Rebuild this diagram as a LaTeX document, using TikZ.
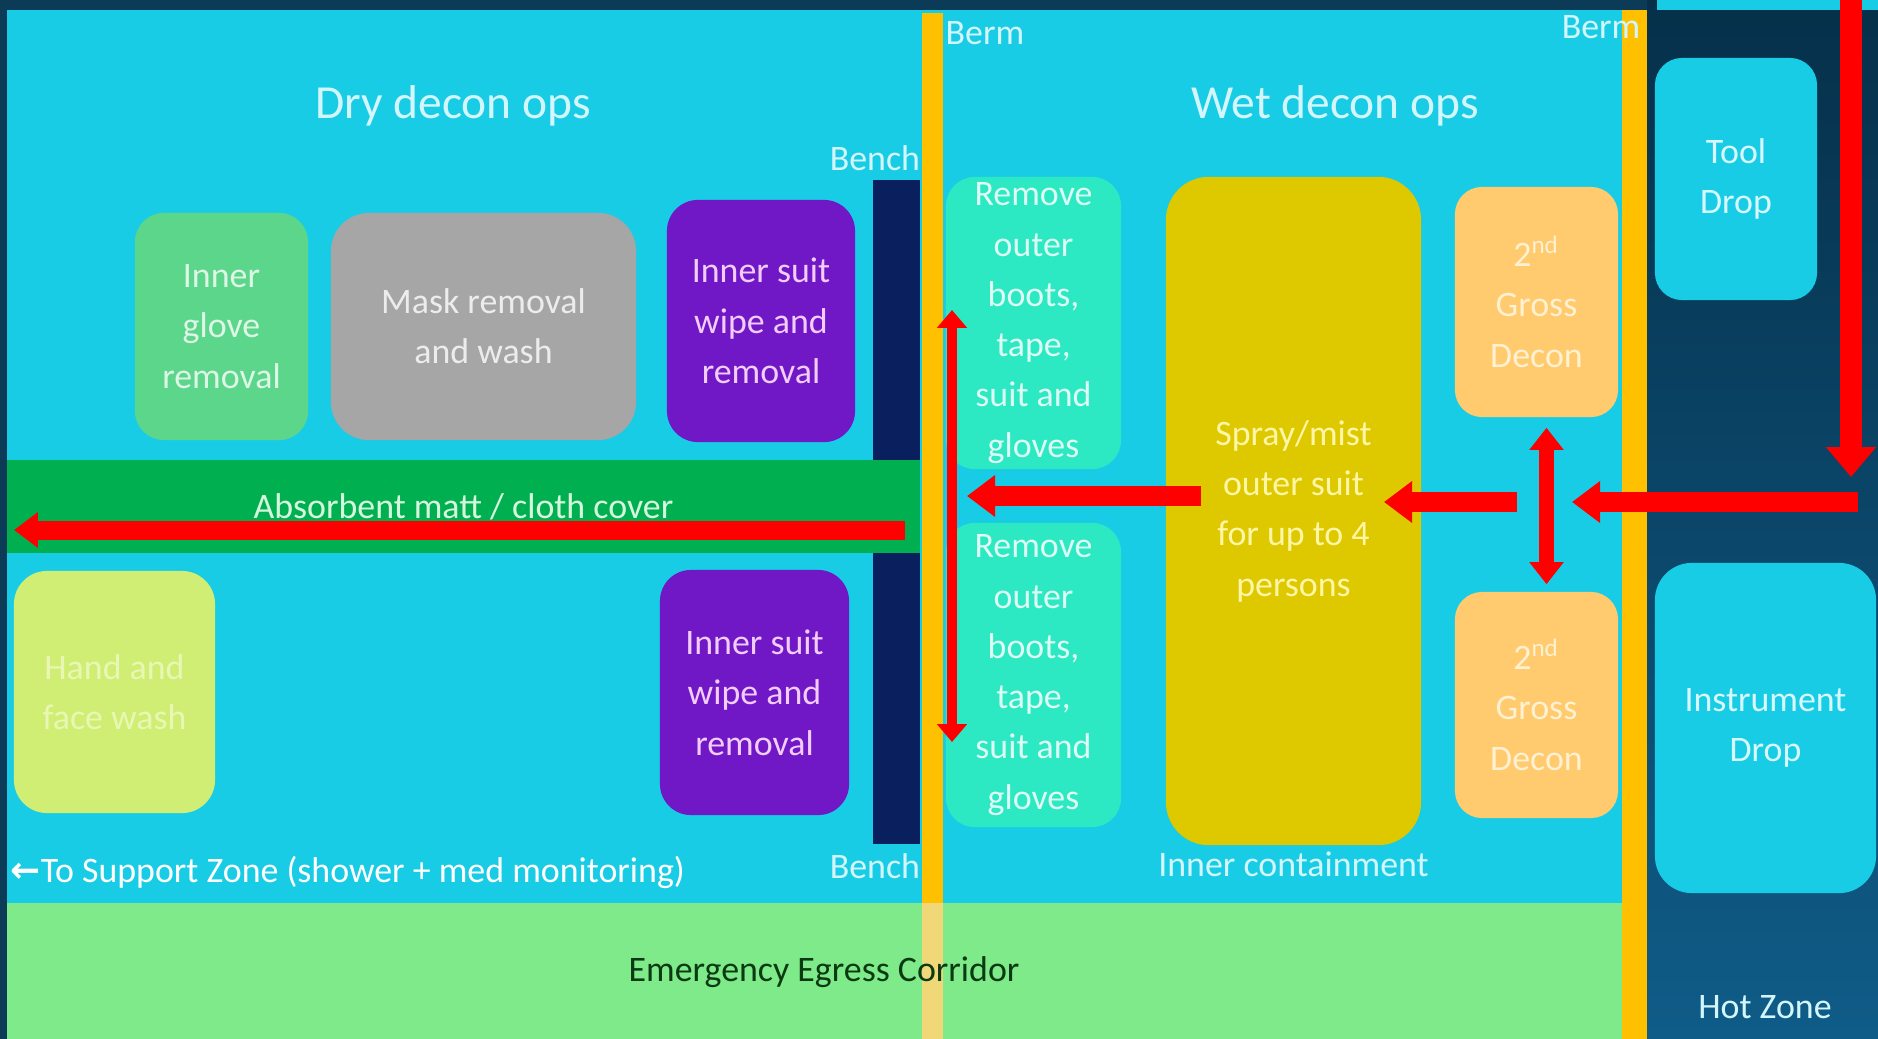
\documentclass[tikz,border=0pt]{standalone}
\usepackage{fontspec}
\setmainfont{Carlito}
\newfontfamily\arrowfont{DejaVu Sans}
\usetikzlibrary{arrows.meta,positioning}

\definecolor{outerdark}{HTML}{0B3B57}
\definecolor{hottop}{HTML}{06304A}
\definecolor{hotbot}{HTML}{0F5C88}
\definecolor{zonecyan}{HTML}{18CCE6}
\definecolor{paletext}{HTML}{D2F6FC}
\definecolor{bermyellow}{HTML}{FFC000}
\definecolor{bermpale}{HTML}{F0D878}
\definecolor{benchnavy}{HTML}{0A1F5E}
\definecolor{mattgreen}{HTML}{00B050}
\definecolor{matttext}{HTML}{D6F7DD}
\definecolor{egressgreen}{HTML}{7EEA8A}
\definecolor{egresstext}{HTML}{0B3A12}
\definecolor{glovegreen}{HTML}{5CD68B}
\definecolor{glovetext}{HTML}{DDF6E6}
\definecolor{maskgrey}{HTML}{A6A6A6}
\definecolor{masktext}{HTML}{ECECEC}
\definecolor{suitpurple}{HTML}{7018C6}
\definecolor{suittext}{HTML}{F2CDFB}
\definecolor{washlime}{HTML}{D1EE74}
\definecolor{washtext}{HTML}{E9F7B4}
\definecolor{bootaqua}{HTML}{2CE8C3}
\definecolor{boottext}{HTML}{DDFCF3}
\definecolor{spraygold}{HTML}{DEC800}
\definecolor{spraytext}{HTML}{FFF6A6}
\definecolor{grossorange}{HTML}{FFCB6E}
\definecolor{grosstext}{HTML}{FFF1D2}
\definecolor{droptext}{HTML}{D8F8FF}
\definecolor{flowred}{HTML}{FF0000}

\begin{document}
\begin{tikzpicture}[x=0.01cm, y=-0.01cm,
  every node/.style={font=\fontsize{10.2}{14.3}\selectfont, inner sep=0pt},
  station/.style={align=center},
  tag/.style={text=paletext},
  title/.style={text=paletext, font=\fontsize{13.5}{16}\selectfont},
  flow/.style={draw=flowred, line width=5.7pt, -{Triangle[length=8pt,width=11.4pt]}},
  twoway/.style={draw=flowred, line width=4.3pt,
    {Triangle[length=6.3pt,width=9.4pt]}-{Triangle[length=6.3pt,width=9.4pt]}}]

  \useasboundingbox (0,0) rectangle (1878,1039);

  % zones
  \fill[outerdark] (0,0) rectangle (1878,1039);
  \shade[top color=hottop, bottom color=hotbot] (1647,0) rectangle (1878,1039);
  \fill[zonecyan] (1657,0) rectangle (1878,10);
  \fill[zonecyan] (7,10) rectangle (1647,903);
  \fill[egressgreen] (7,903) rectangle (1622,1039);
  \fill[bermyellow] (922,13) rectangle (943,903);
  \fill[bermpale] (922,903) rectangle (943,1039);
  \fill[bermyellow] (1622,10) rectangle (1647,1039);

  \node[fill=benchnavy, minimum width=0.47cm, minimum height=2.87cm] (benchA) at (896.5,323.5) {};
  \node[fill=benchnavy, minimum width=0.47cm, minimum height=2.91cm] (benchB) at (896.5,698.5) {};
  \node[fill=mattgreen, text=matttext, minimum width=9.13cm, minimum height=0.93cm] (matt) at (463.5,506.5)
    {Absorbent matt / cloth cover};

  % dry side
  \node[station, fill=glovegreen, text=glovetext, minimum width=1.73cm, minimum height=2.27cm,
    rounded corners=8.2pt] (glove) at (221.5,326.5) {Inner\\glove\\removal};
  \node[station, fill=maskgrey, text=masktext, minimum width=3.05cm, minimum height=2.27cm,
    rounded corners=10.8pt] (mask) at (483.5,326.5) {Mask removal\\and wash};
  \node[station, fill=suitpurple, text=suittext, minimum width=1.88cm, minimum height=2.42cm,
    rounded corners=8.8pt] (suitA) at (761,321) {Inner suit\\wipe and\\removal};
  \node[station, fill=washlime, text=washtext, minimum width=2.01cm, minimum height=2.42cm,
    rounded corners=9.4pt] (wash) at (114.5,692) {Hand and\\face wash};
  \node[station, fill=suitpurple, text=suittext, minimum width=1.89cm, minimum height=2.45cm,
    rounded corners=8.8pt] (suitB) at (754.5,692.5) {Inner suit\\wipe and\\removal};

  % wet side
  \node[station, fill=bootaqua, text=boottext, minimum width=1.75cm, minimum height=2.92cm,
    rounded corners=8.2pt] (bootsA) at (1033.5,323) {Remove\\outer\\boots,\\tape,\\suit and\\gloves};
  \node[station, fill=bootaqua, text=boottext, minimum width=1.75cm, minimum height=3.04cm,
    rounded corners=8.2pt] (bootsB) at (1033.5,675) {Remove\\outer\\boots,\\tape,\\suit and\\gloves};
  \node[station, fill=spraygold, text=spraytext, minimum width=2.55cm, minimum height=6.68cm,
    rounded corners=12.2pt] (spray) at (1293.5,511) {Spray/mist\\outer suit\\for up to 4\\persons};
  \node[station, fill=grossorange, text=grosstext, minimum width=1.63cm, minimum height=2.30cm,
    rounded corners=7.7pt] (grossA) at (1536.5,302) {2\textsuperscript{nd}\\Gross\\Decon};
  \node[station, fill=grossorange, text=grosstext, minimum width=1.63cm, minimum height=2.26cm,
    rounded corners=7.7pt] (grossB) at (1536.5,705) {2\textsuperscript{nd}\\Gross\\Decon};

  % hot zone
  \node[station, fill=zonecyan, text=droptext, minimum width=1.62cm, minimum height=2.42cm,
    rounded corners=7.7pt] (tool) at (1736,179) {Tool\\Drop};
  \node[station, fill=zonecyan, text=droptext, minimum width=2.21cm, minimum height=3.30cm,
    rounded corners=10.5pt] (instr) at (1765.5,728) {Instrument\\Drop};

  % labels
  \node[title] (drytitle) at (453,106) {Dry decon ops};
  \node[title] (wettitle) at (1335,106) {Wet decon ops};
  \node[tag, anchor=west] (bermL) at (945,33) {Berm};
  \node[tag, anchor=east] (bermR) at (1641,27) {Berm};
  \node[tag, above=0.08cm of benchA.north east, anchor=south east] (benchAlbl) {Bench};
  \node[tag, below=0.08cm of benchB.south east, anchor=north east] (benchBlbl) {Bench};
  \node[tag, below=0.05cm of spray] (inner) {Inner containment};
  \node[text=white, anchor=west] (support) at (10,872)
    {{\arrowfont\bfseries ←}To Support Zone (shower + med monitoring)};
  \node[text=egresstext] (egress) at (824,972) {Emergency Egress Corridor};
  \node[tag] (hot) at (1765,1007) {Hot Zone};

  % flow
  \coordinate (toolIn) at (1851,0);
  \coordinate (toolOut) at (1851,477);
  \coordinate (hotIn) at (1858,502);
  \coordinate (hotOut) at (1572,502);
  \coordinate (grossOut) at (1517,502);
  \coordinate (sprayIn) at (1384,502);
  \coordinate (sprayOut) at (1201,496);
  \coordinate (bootsIn) at (967,496);
  \coordinate (mattIn) at (905,530);
  \coordinate (mattOut) at (14,530);
  \coordinate (bootsUp) at (952,310);
  \coordinate (bootsDown) at (952,742);

  \draw[flow, line width=6.3pt, -{Triangle[length=8.5pt,width=13.7pt]}] (toolIn) -- (toolOut); %% in
  \draw[flow] (hotIn) -- (hotOut); %% hot->gross
  \draw[flow] (grossOut) -- (sprayIn); %% gross->spray
  \draw[flow] (sprayOut) -- (bootsIn); %% spray->boots
  \draw[flow, line width=5.4pt, -{Triangle[length=6.8pt,width=9.7pt]}] (mattIn) -- (mattOut); %% out
  \draw[twoway, shorten <=0.1cm, shorten >=0.07cm]
    ([xshift=0.1cm]grossA.south) -- ([xshift=0.1cm]grossB.north); %% A<->B
  \draw[twoway, line width=3.1pt,
    {Triangle[length=5.1pt,width=8.3pt]}-{Triangle[length=5.1pt,width=8.3pt]}] (bootsUp) -- (bootsDown); %% A<->B
\end{tikzpicture}
\end{document}
